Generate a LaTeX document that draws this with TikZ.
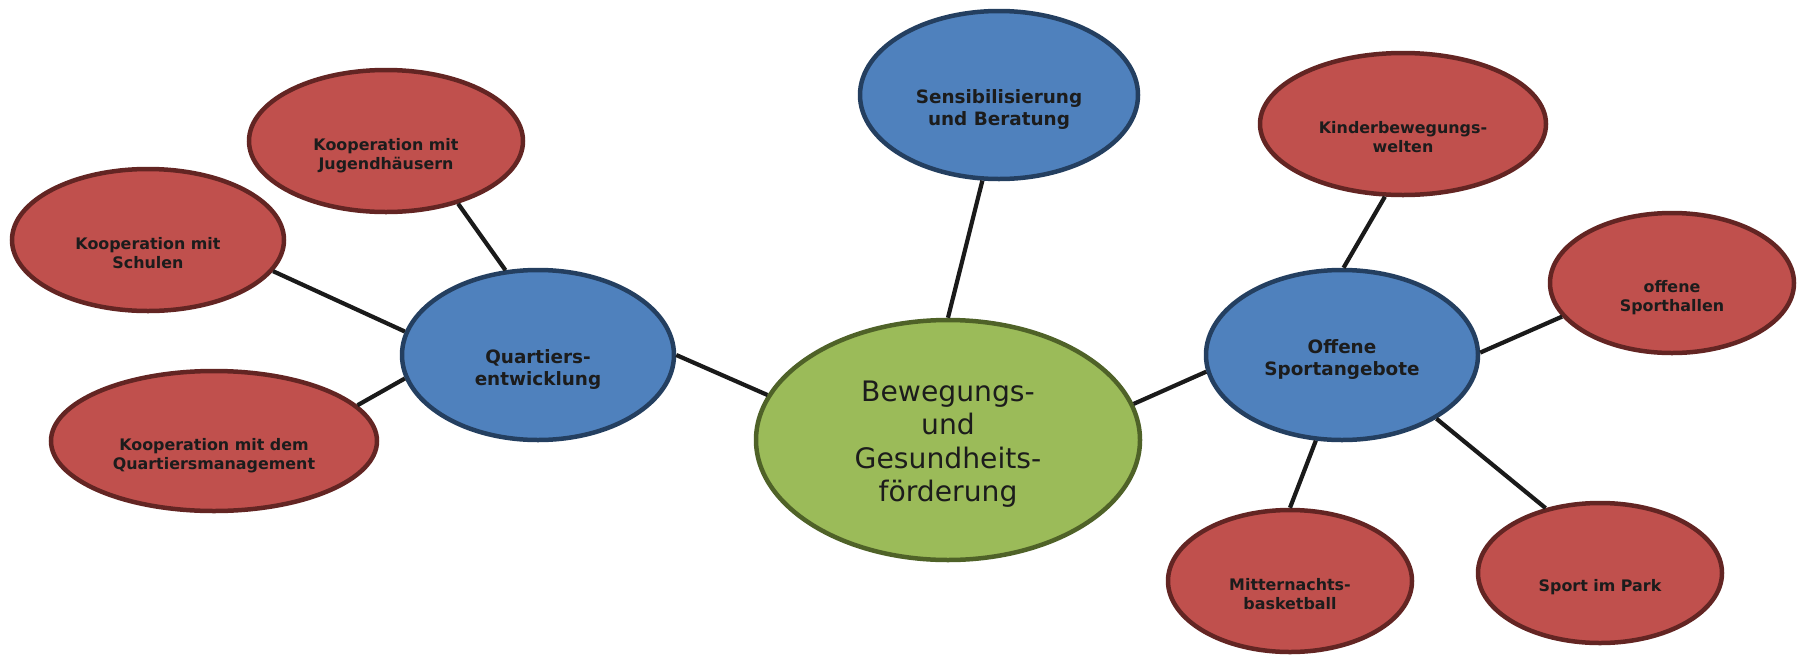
\documentclass[tikz,border=0pt]{standalone}
\usepackage{fontspec}
\setmainfont{DejaVu Sans}
\usetikzlibrary{shapes.geometric}

\definecolor{coreFill}{HTML}{9BBB59}
\definecolor{coreLine}{HTML}{4F6228}
\definecolor{hubFill}{HTML}{4F81BD}
\definecolor{hubLine}{HTML}{243F60}
\definecolor{topicFill}{HTML}{C0504D}
\definecolor{topicLine}{HTML}{632523}
\definecolor{textDark}{HTML}{1C1C1C}
\definecolor{linkDark}{HTML}{1A1A1A}

% text block sitting a little below the middle of its bubble
\newcommand{\lowtext}[2][15pt]{\raisebox{-#1}[\height][\depth]{\begin{tabular}{@{}c@{}}#2\end{tabular}}}

\begin{document}
\begin{tikzpicture}[x=1pt, y=-1pt,
  bubble/.style={ellipse, line width=4.5pt, inner sep=0pt, align=center, text=textDark},
  core/.style={bubble, fill=coreFill, draw=coreLine,
               font=\fontsize{28.2}{33.5}\selectfont},
  hub/.style={bubble, fill=hubFill, draw=hubLine,
              font=\bfseries\fontsize{18.4}{21.7}\selectfont},
  topic/.style={bubble, fill=topicFill, draw=topicLine,
                font=\bfseries\fontsize{15.9}{19}\selectfont},
  link/.style={line width=4.2pt, draw=linkDark}]

  \useasboundingbox (0,0) rectangle (1800,654);

  % The centre of the map
  \node[core, minimum width=384, minimum height=240] (core) at (948,440)
    {\lowtext[5pt]{Bewegungs-\\und\\Gesundheits-\\förderung}};

  % The three main fields
  \node[hub, minimum width=278, minimum height=168] (sens) at (999,95)
    {\lowtext{Sensibilisierung\\und Beratung}};
  \node[hub, minimum width=272, minimum height=170] (quartiers) at (538,355)
    {\lowtext{Quartiers-\\entwicklung}};
  \node[hub, minimum width=272, minimum height=170] (offene) at (1342,355)
    {\lowtext[5pt]{Offene\\Sportangebote}};

  % Measures on the left
  \node[topic, minimum width=274, minimum height=142] (jugend) at (386,141)
    {\lowtext{Kooperation mit\\Jugendhäusern}};
  \node[topic, minimum width=272, minimum height=142] (schulen) at (148,240)
    {\lowtext{Kooperation mit\\Schulen}};
  \node[topic, minimum width=326, minimum height=140] (management) at (214,441)
    {\lowtext{Kooperation mit dem\\Quartiersmanagement}};

  % Measures on the right
  \node[topic, minimum width=286, minimum height=142] (kinder) at (1403,124)
    {\lowtext{Kinderbewegungs-\\welten}};
  \node[topic, minimum width=244, minimum height=140] (hallen) at (1672,283)
    {\lowtext{offene\\Sporthallen}};
  \node[topic, minimum width=244, minimum height=142] (mitter) at (1290,581)
    {\lowtext{Mitternachts-\\basketball}};
  \node[topic, minimum width=244, minimum height=140] (park) at (1600,573)
    {\lowtext{Sport im Park}};

  % The connectors, from border point to border point
  \foreach \from/\fa/\to/\ta in {jugend/-41/quartiers/111,
                                 schulen/-14/quartiers/170,
                                 management/14/quartiers/190,
                                 quartiers/0/core/166,
                                 core/90/sens/259,
                                 core/11/offene/187,
                                 offene/89/kinder/256,
                                 offene/1/hallen/197,
                                 offene/253/mitter/90,
                                 offene/-34/park/130}
    \draw[link] (\from.\fa) -- (\to.\ta);
\end{tikzpicture}
\end{document}
